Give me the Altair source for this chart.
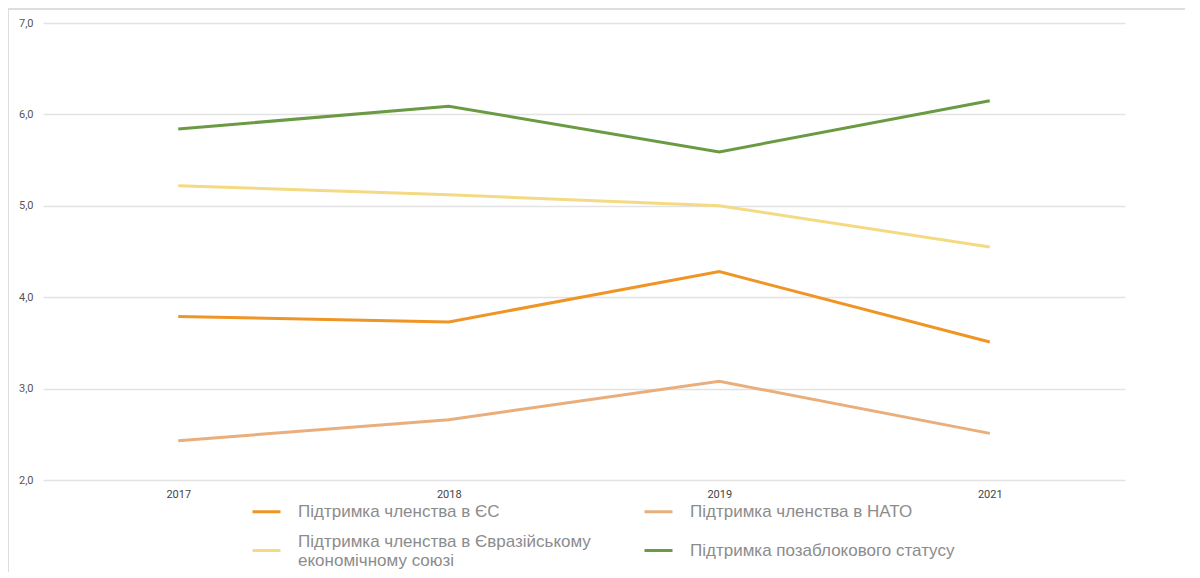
import altair as alt
import pandas as pd

years = ["2017", "2018", "2019", "2021"]
series = [
    "Підтримка членства в ЄС",
    "Підтримка членства в НАТО",
    "Підтримка членства в Євразійському економічному союзі",
    "Підтримка позаблокового статусу",
]
colors = ["#EF9526", "#E9AE7B", "#F5DA84", "#6A9A43"]
eu = [3.79, 3.73, 4.28, 3.51]
nato = [2.43, 2.66, 3.08, 2.51]
eaeu = [5.22, 5.12, 5.00, 4.55]
nonbloc = [5.84, 6.09, 5.59, 6.15]

rows = []
for name, vals in zip(series, [eu, nato, eaeu, nonbloc]):
    for y, v in zip(years, vals):
        rows.append({"year": y, "series": name, "value": v})
df = pd.DataFrame(rows)

long_name = series[2]
label_expr = (
    f"datum.label == '{long_name}' ? "
    "['Підтримка членства в Євразійському', 'економічному союзі'] : datum.label"
)
baseline_expr = f"datum.value == '{long_name}' ? 'bottom' : 'middle'"

lines = alt.Chart(df).mark_line(strokeWidth=3).encode(
    x=alt.X("year:N", sort=years, title=None,
            axis=alt.Axis(labelAngle=0, ticks=False, domain=False, grid=False,
                          labelPadding=8, labelFontSize=11, labelColor="#444444",
                          labelFont="Roboto")),
    y=alt.Y("value:Q", title=None,
            scale=alt.Scale(domain=[2, 7], nice=False, zero=False),
            axis=alt.Axis(values=[2, 3, 4, 5, 6, 7], ticks=False, domain=False,
                          gridColor="#E3E3E3", gridWidth=1.5,
                          labelExpr="replace(format(datum.value, '.1f'), '.', ',')",
                          labelPadding=10, labelFontSize=11, labelColor="#555555",
                          labelFont="Roboto")),
    color=alt.Color("series:N", sort=series, title=None,
                    scale=alt.Scale(domain=series, range=colors),
                    legend=alt.Legend(orient="none", legendX=208, legendY=473,
                                      columns=2, direction="horizontal",
                                      symbolType="stroke",
                                      symbolStrokeWidth=3, symbolSize=784,
                                      labelFontSize=17, labelFont="Liberation Sans",
                                      labelColor="#8C8C8C", labelOffset=16,
                                      labelBaseline=alt.ExprRef(expr=baseline_expr),
                                      labelLimit=450, columnPadding=47,
                                      rowPadding=12, labelExpr=label_expr)),
)

frame_top = alt.Chart(df).mark_rule(color="#DDDDDD", strokeWidth=2).encode(
    x=alt.value(-36), x2=alt.value(1160), y=alt.value(-14)
)
frame_left = alt.Chart(df).mark_rule(color="#DDDDDD", strokeWidth=2).encode(
    x=alt.value(-35), y=alt.value(-15), y2=alt.value(560)
)

chart = alt.layer(frame_top, frame_left, lines).properties(
    width=1082, height=457,
    padding={"left": 35, "top": 15, "right": 60, "bottom": 92},
    autosize=alt.AutoSizeParams(type="none"),
).configure_view(stroke=None)

chart.save("out.html", embed_options={"renderer": "svg", "actions": False})
